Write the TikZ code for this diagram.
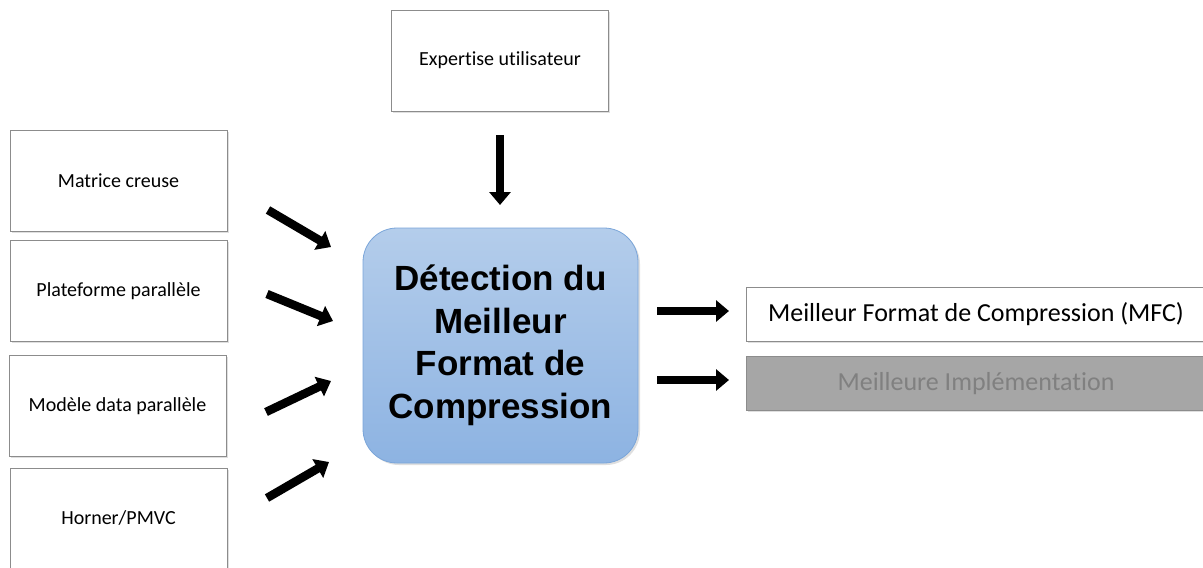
\documentclass[tikz,border=0pt]{standalone}
\usepackage{fontspec}
\setmainfont[Ligatures={NoCommon}]{Carlito}
\newfontfamily\boldsans{Liberation Sans}
\usetikzlibrary{arrows.meta,shadows}
\definecolor{boxline}{HTML}{8C8C8C}
\definecolor{blueTop}{HTML}{B4CDEB}
\definecolor{blueBot}{HTML}{8DB3E2}
\definecolor{blueLine}{HTML}{7AA5D9}
\definecolor{implFill}{HTML}{A6A6A6}
\definecolor{implText}{HTML}{808080}
\tikzset{
  inbox/.style={draw=boxline, line width=0.8pt, fill=white, minimum width=217pt, minimum height=101pt, inner sep=0pt,
    font=\fontsize{20}{24}\selectfont, drop shadow={shadow xshift=1.5pt, shadow yshift=-1.5pt, opacity=0.25}},
  outbox/.style={draw=boxline, line width=0.8pt, minimum width=460pt, minimum height=54pt, inner sep=0pt,
    drop shadow={shadow xshift=1.5pt, shadow yshift=-1.5pt, opacity=0.25}},
  fat/.style={line width=8.5pt, -{Triangle[length=13pt,width=21pt]}, black},
}
\begin{document}
\begin{tikzpicture}[x=1pt,y=-1pt]
\useasboundingbox (0,0) rectangle (1203,568);
\begin{scope}
\clip (0,0) rectangle (1203,568);
\node[inbox] (mat) at (118.5,181) {Matrice creuse};
\node[inbox] (plat) at (118.5,291) {Plateforme parallèle};
\node[inbox] (mod) at (117.5,406) {Modèle data parallèle};
\node[inbox, minimum height=110pt] (hor) at (118.5,523) {};
\node at (118.5,518) [font=\fontsize{20}{24}\selectfont] (hortext) {Horner/PMVC};
\node[inbox] (exp) at (500,60.5) {Expertise utilisateur};

\node[draw=blueLine, line width=0.8pt, rounded corners=34pt, top color=blueTop, bottom color=blueBot,
  minimum width=275pt, minimum height=235pt, inner sep=0pt,
  drop shadow={shadow xshift=2pt, shadow yshift=-2pt, opacity=0.25},
  align=center, font=\boldsans\bfseries\fontsize{35}{42.5}\selectfont] (det) at (500.5,345.5)
  {Détection du\\Meilleur\\Format de\\Compression};

\node[outbox, fill=white, font=\fontsize{26}{30}\selectfont] (mfc) at (976,314) {Meilleur Format de Compression (MFC)};
\node[outbox, fill=implFill, text=implText, font=\fontsize{26}{30}\selectfont] (impl) at (976,383.5) {Meilleure Implémentation};
\end{scope}

\coordinate (a1s) at (268,210); \coordinate (a1e) at (331,247);
\coordinate (a2s) at (267,294); \coordinate (a2e) at (333,321);
\coordinate (a3s) at (266,412); \coordinate (a3e) at (331,381);
\coordinate (a4s) at (267,498); \coordinate (a4e) at (329,462);
\coordinate (a5s) at (500,135); \coordinate (a5e) at (500,205);
\coordinate (a6s) at (657,311); \coordinate (a6e) at (729,311);
\coordinate (a7s) at (657,380); \coordinate (a7e) at (729,380);
\foreach \i in {1,...,7} {\draw[fat] (a\i s) -- (a\i e);}
\end{tikzpicture}
\end{document}
